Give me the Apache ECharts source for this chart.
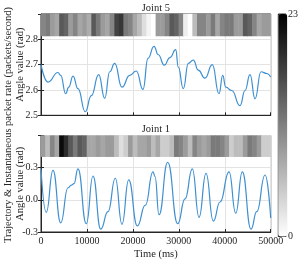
<!DOCTYPE html>
<html>
<head>
<meta charset="utf-8">
<script src="https://cdn.jsdelivr.net/npm/echarts@6/dist/echarts.min.js"></script>
<style>html,body{margin:0;padding:0;background:#fff}#c{width:301px;height:261px}</style>
</head>
<body>
<div id="c"></div>
<script>
// ---- data ----
var joint5Time = [0,1524,3700,4290,5380,6030,6970,8050,9640,10950,12560,13870,14960,16040,17630,19310,20750,22200,23290,24600,25540,26840,28080,29320,29890,30980,32070,33160,34240,35700,37290,38750,39560,40210,41520,43320,44410,45500,46590,47890,49130,50000];
var joint5Angle = [2.70,2.631,2.669,2.658,2.585,2.611,2.655,2.605,2.514,2.578,2.661,2.567,2.672,2.705,2.611,2.658,2.675,2.602,2.725,2.772,2.739,2.698,2.728,2.759,2.69,2.605,2.705,2.718,2.678,2.647,2.70,2.585,2.658,2.611,2.598,2.538,2.598,2.661,2.565,2.672,2.665,2.651];
var joint1Time = [0,1150,2610,4290,5880,6600,7180,8050,9860,11320,13000,14590,16180,17630,19090,20960,22710,24380,24820,25690,27580,29760,31350,32940,34400,35920,37510,38970,40930,42390,43820,45720,46960,48770,50000];
var joint1Angle = [0.29,-0.116,0.276,-0.214,0.113,0.137,0.151,0.29,-0.223,0.223,-0.273,-0.11,0.202,-0.228,0.187,-0.243,-0.05,0.262,0.217,-0.139,0.351,-0.223,0.009,0.29,-0.163,0.247,-0.199,-0.02,0.262,-0.125,0.262,-0.273,-0.11,0.232,-0.17];
// packet rate per 1000 ms bin (0..23)
var joint5Rate = [11,12,9,8,15,14,9,11,8,9,7.5,15,12,9,8,11,17,18,12,11,8,6,3,1,0,9,9,11,15,14,11,1.5,0,6,11,11,9,12,8,11,12,12,9,9,15,14,11,8,9,9];
var joint1Rate = [9,6,11,8,22,19,15,12,15,14,8,8,9,8,9,9,6,3,4.5,9,6,8,8,9,6,8,4.5,4.5,6,12,11,9,6,11,9,8,9,12,12,11,9,4.5,6,6,9,12,11,9,4.5,4.5];
var rateMin = 0, rateMax = 23;
var timeTicks = {min:0, max:50000, interval:10000};
var binLabels = joint5Rate.map(function(_, i){ return String(i); });

// ---- chart ----
var FONT = 'Liberation Serif';
var txt = {fontFamily: FONT, fontSize: 10, color: '#262626'};
function heat(rates){ return rates.map(function(v,i){ return [i, 0, v]; }); }
function pairs(t, v){ return t.map(function(x,i){ return [x, v[i]]; }); }

var L = 41, W = 229.7;
var grids = [
  {left:L, top:14, width:W, height:101.3, show:true, borderColor:'#262626', borderWidth:1, backgroundColor:'#fff'},
  {left:L, top:14, width:W, height:22},
  {left:L, top:135.6, width:W, height:101.1, show:true, borderColor:'#262626', borderWidth:1, backgroundColor:'#fff'},
  {left:L, top:135.6, width:W, height:21.1},
  {left:278.3, top:14, width:9, height:222.5, show:true, borderColor:'#262626', borderWidth:1}
];
var splitL = {show:true, lineStyle:{color:'#e3e3e3', width:1}};
var axL = {show:true, onZero:false, lineStyle:{color:'#262626', width:1}};
var tickIn = {show:true, inside:true, length:3, lineStyle:{color:'#262626'}};
var nameStyle = Object.assign({}, txt, {fontSize:10.5});

var xAxes = [
  {gridIndex:0, type:'value', min:timeTicks.min, max:timeTicks.max, interval:timeTicks.interval, axisLine:axL, axisTick:tickIn, axisLabel:{show:false}, splitLine:splitL},
  {gridIndex:1, type:'category', data:binLabels, show:false},
  {gridIndex:2, type:'value', min:timeTicks.min, max:timeTicks.max, interval:timeTicks.interval, axisLine:axL, axisTick:tickIn,
    axisLabel:Object.assign({margin:4, formatter:function(v){ return String(v); }}, txt), splitLine:splitL,
    name:'Time (ms)', nameLocation:'middle', nameGap:17, nameMoveOverlap:false, nameTextStyle:nameStyle},
  {gridIndex:3, type:'category', data:binLabels, show:false},
  {gridIndex:4, type:'value', show:false, min:0, max:1}
];
function fmt(v){ return v.toFixed(1); }
var yAxes = [
  {gridIndex:0, type:'value', min:2.5, max:2.9, interval:0.1, axisLine:axL, axisTick:tickIn,
    axisLabel:Object.assign({margin:3, formatter:function(v){ return v > 2.85 ? '' : fmt(v); }}, txt), splitLine:splitL,
    name:'Angle value (rad)', nameLocation:'middle', nameGap:15, nameMoveOverlap:false, nameTextStyle:nameStyle},
  {gridIndex:1, type:'category', data:['r'], show:false},
  {gridIndex:2, type:'value', min:-0.3, max:0.6, interval:0.3, axisLine:axL, axisTick:tickIn,
    axisLabel:Object.assign({margin:3, formatter:function(v){ return v > 0.45 ? '' : fmt(v); }}, txt), splitLine:splitL,
    name:'Angle value (rad)', nameLocation:'middle', nameGap:15, nameMoveOverlap:false, nameTextStyle:nameStyle},
  {gridIndex:3, type:'category', data:['r'], show:false},
  {gridIndex:4, type:'value', min:rateMin, max:rateMax, interval:rateMax, position:'right',
    axisLine:{show:false}, axisTick:{show:true, inside:false, length:3, lineStyle:{color:'#262626'}},
    axisLabel:Object.assign({margin:2}, txt), splitLine:{show:false}},
  {gridIndex:0, type:'value', min:2.5, max:2.9, interval:0.1, position:'right', axisLine:{show:false}, axisTick:tickIn, axisLabel:{show:false}, splitLine:{show:false}},
  {gridIndex:2, type:'value', min:-0.3, max:0.6, interval:0.3, position:'right', axisLine:{show:false}, axisTick:tickIn, axisLabel:{show:false}, splitLine:{show:false}}
];

var option = {
  animation:false,
  backgroundColor:'#fff',
  grid:grids,
  xAxis:xAxes,
  yAxis:yAxes,
  visualMap:{
    type:'continuous', min:rateMin, max:rateMax, seriesIndex:[0,2], calculable:false,
    orient:'vertical', left:278.3, top:14, itemWidth:9, itemHeight:222.5, padding:0, text:null,
    showLabel:false, inRange:{color:['#ffffff','#000000']}
  },
  series:[
    {type:'heatmap', xAxisIndex:1, yAxisIndex:1, data:heat(joint5Rate), z:3},
    {type:'line', xAxisIndex:0, yAxisIndex:0, data:pairs(joint5Time, joint5Angle), smooth:0.5, smoothMonotone:'x', showSymbol:false, lineStyle:{color:'#3d8fd1', width:1.2}},
    {type:'heatmap', xAxisIndex:3, yAxisIndex:3, data:heat(joint1Rate), z:3},
    {type:'line', xAxisIndex:2, yAxisIndex:2, data:pairs(joint1Time, joint1Angle), smooth:0.5, smoothMonotone:'x', showSymbol:false, lineStyle:{color:'#3d8fd1', width:1.2}}
  ],
  graphic:[
    {type:'text', silent:true, position:[155.9, 8], style:{text:'Joint 5', font:'10.5px "Liberation Serif"', fill:'#262626', textAlign:'center', textVerticalAlign:'middle'}},
    {type:'text', silent:true, position:[155.9, 129], style:{text:'Joint 1', font:'10.5px "Liberation Serif"', fill:'#262626', textAlign:'center', textVerticalAlign:'middle'}},
    {type:'text', silent:true, position:[8, 125], rotation:Math.PI/2, style:{text:'Trajectory & Instantaneous packet rate (packets/second)', font:'10.5px "Liberation Serif"', fill:'#262626', textAlign:'center', textVerticalAlign:'middle'}}
  ]
};
var chart = echarts.init(document.getElementById('c'), null, {renderer:'canvas'});
chart.setOption(option);
</script>
</body>
</html>
